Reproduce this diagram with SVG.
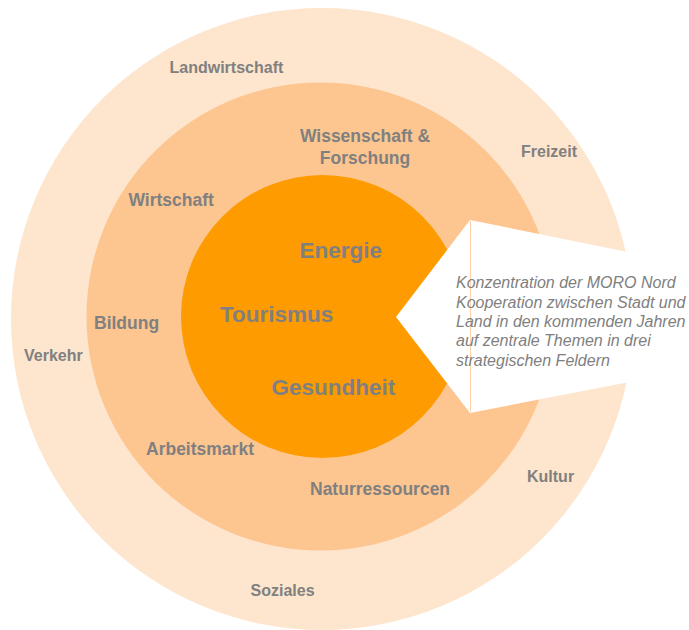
<svg xmlns="http://www.w3.org/2000/svg" width="689" height="630" viewBox="0 0 689 630">
  <style>
    .lbl { font-family: "Liberation Sans", Arial, sans-serif; font-weight: bold; fill: #808080; }
    .outer { font-size: 16px; }
    .mid { font-size: 17.5px; }
    .core { font-size: 22.5px; }
    .note { font-family: "Liberation Sans", Arial, sans-serif; font-style: italic; font-size: 16px; fill: #808080; }
  </style>
  <rect x="0" y="0" width="689" height="630" fill="#ffffff"/>
  <g id="ring-outer">
    <circle cx="322" cy="319" r="311" fill="#FEE5CD"/>
  </g>
  <g id="ring-middle">
    <circle cx="320.5" cy="316.5" r="234" fill="#FDC690"/>
  </g>
  <g id="ring-core">
    <circle cx="322.5" cy="316.5" r="141.5" fill="#FD9B00"/>
  </g>
  <g id="callout">
    <polygon points="396,317 470,220 645,255.5 645,379 470,413" fill="#ffffff"/>
    <line x1="470.5" y1="221" x2="470.5" y2="412" stroke="#FDD3AA" stroke-width="1"/>
    <text class="note" x="456" y="288.3">Konzentration der MORO Nord</text>
    <text class="note" x="456" y="307.5">Kooperation zwischen Stadt und</text>
    <text class="note" x="456" y="326.8">Land in den kommenden Jahren</text>
    <text class="note" x="456" y="346.2">auf zentrale Themen in drei</text>
    <text class="note" x="456" y="365.6">strategischen Feldern</text>
  </g>
  <g id="labels-outer">
    <text class="lbl outer" x="169.5" y="72.5">Landwirtschaft</text>
    <text class="lbl outer" x="521" y="156.5">Freizeit</text>
    <text class="lbl outer" x="24" y="360.7">Verkehr</text>
    <text class="lbl outer" x="527" y="481.5">Kultur</text>
    <text class="lbl outer" x="250.5" y="596">Soziales</text>
  </g>
  <g id="labels-middle">
    <text class="lbl mid" x="365" y="142.3" text-anchor="middle">Wissenschaft &amp;</text>
    <text class="lbl mid" x="365" y="164.3" text-anchor="middle">Forschung</text>
    <text class="lbl mid" x="128.5" y="206">Wirtschaft</text>
    <text class="lbl mid" x="94" y="329">Bildung</text>
    <text class="lbl mid" x="146" y="455">Arbeitsmarkt</text>
    <text class="lbl mid" x="310" y="495">Naturressourcen</text>
  </g>
  <g id="labels-core">
    <text class="lbl core" x="299.5" y="257.5">Energie</text>
    <text class="lbl core" x="220" y="322">Tourismus</text>
    <text class="lbl core" x="271.5" y="395">Gesundheit</text>
  </g>
</svg>
